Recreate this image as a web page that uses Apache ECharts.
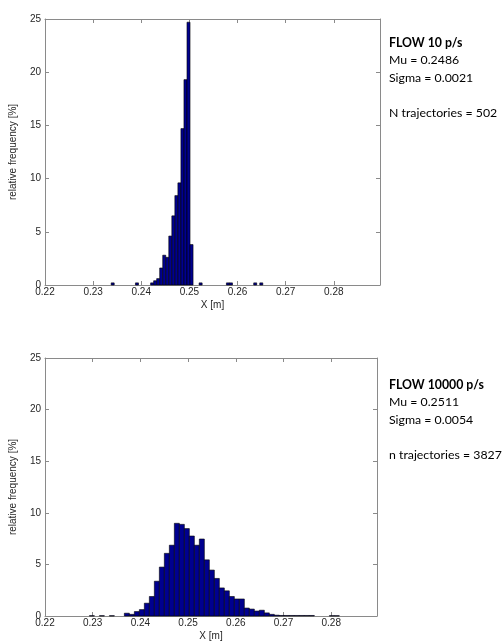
<!DOCTYPE html>
<html>
<head>
<meta charset="utf-8">
<script src="https://cdn.jsdelivr.net/npm/echarts@6/dist/echarts.min.js"></script>
<style>
  html, body { margin: 0; padding: 0; background: #fff; }
  #chart { width: 503px; height: 642px; }
</style>
</head>
<body>
<div id="chart"></div>
<script>
// histogram 1: FLOW 10 p/s, 50 bins
var topBinStart = 0.23375;
var topBinWidth = 0.00063;
var topFreq = [0.2, 0, 0, 0, 0, 0, 0, 0, 0.2, 0,
               0, 0, 0, 0.2, 0.4, 0.6, 1.6, 2.8, 2.6, 4.6,
               6.5, 8.4, 9.6, 14.7, 19.3, 24.7, 3.8, 0, 0, 0.2,
               0, 0, 0, 0, 0, 0, 0, 0, 0.2, 0.2,
               0, 0, 0, 0, 0, 0, 0, 0.2, 0, 0.2];

// histogram 2: FLOW 10000 p/s, 50 bins
var botBinStart = 0.2293;
var botBinWidth = 0.001048;
var botFreq = [0.03, 0, 0.03, 0, 0.03, 0, 0, 0.27, 0.16, 0.43,
               0.62, 1.24, 1.89, 3.37, 4.74, 6.07, 6.86, 8.98, 8.88, 8.47,
               7.75, 6.86, 7.46, 5.44, 4.45, 3.64, 2.72, 2.44, 1.89, 1.65,
               1.65, 0.77, 0.67, 0.48, 0.56, 0.3, 0.16, 0.08, 0.05, 0.05,
               0.05, 0.05, 0.05, 0.05, 0.05, 0, 0, 0, 0.03, 0.03];

var topInfo = ['FLOW 10 p/s', 'Mu = 0.2486', 'Sigma = 0.0021', '', 'N trajectories = 502'];
var botInfo = ['FLOW 10000 p/s', 'Mu = 0.2511', 'Sigma = 0.0054', '', 'n trajectories = 3827'];

var xMin = 0.22, xMax = 0.2896, xStep = 0.01, xLastLabel = 0.28;
var yMin = 0, yMax = 25, yStep = 5;

function bins(start, width, freq) {
    var out = [];
    for (var i = 0; i < freq.length; i++) {
        if (freq[i] > 0) out.push([start + i * width, start + (i + 1) * width, freq[i]]);
    }
    return out;
}

function renderBin(params, api) {
    var p0 = api.coord([api.value(0), api.value(2)]);
    var p1 = api.coord([api.value(1), 0]);
    return {
        type: 'rect',
        shape: { x: p0[0], y: p0[1], width: p1[0] - p0[0], height: p1[1] - p0[1] },
        style: { fill: '#00008f', stroke: '#000', lineWidth: 0.6 }
    };
}

function infoText(lines) {
    return lines.map(function (l, i) {
        return i === 0 ? '{b|' + l + '}' : '{n|' + (l || ' ') + '}';
    }).join('\n');
}

var axisColor = '#8a8a8a';
var labelColor = '#262626';

function xAxisPair(grid) {
    return [{
        type: 'value', gridIndex: grid, position: 'bottom',
        min: xMin, max: xMax, interval: xStep,
        name: 'X [m]', nameLocation: 'middle', nameGap: 15,
        nameTextStyle: { fontFamily: 'Liberation Sans', fontSize: 10, color: labelColor },
        axisLine: { onZero: false, lineStyle: { color: axisColor, width: 1 } },
        axisTick: { inside: true, length: 4, lineStyle: { color: axisColor } },
        axisLabel: { margin: 2, fontFamily: 'Liberation Sans', fontSize: 10, color: labelColor,
                     formatter: function (v) { return v > xLastLabel + 0.001 ? '' : v.toFixed(2); } },
        splitLine: { show: false }
    }, {
        type: 'value', gridIndex: grid, position: 'top',
        min: xMin, max: xMax, interval: xStep,
        axisLine: { onZero: false, lineStyle: { color: axisColor, width: 1 } },
        axisTick: { inside: true, length: 4, lineStyle: { color: axisColor } },
        axisLabel: { show: false },
        splitLine: { show: false }
    }];
}

function yAxisPair(grid) {
    return [{
        type: 'value', gridIndex: grid, position: 'left',
        min: yMin, max: yMax, interval: yStep,
        name: 'relative frequency [%]', nameLocation: 'middle', nameGap: 27,
        nameTextStyle: { fontFamily: 'Liberation Sans', fontSize: 10, color: labelColor },
        axisLine: { show: true, lineStyle: { color: axisColor, width: 1 } },
        axisTick: { show: true, inside: true, length: 4, lineStyle: { color: axisColor } },
        axisLabel: { margin: 4, fontFamily: 'Liberation Sans', fontSize: 10, color: labelColor },
        splitLine: { show: false }
    }, {
        type: 'value', gridIndex: grid, position: 'right',
        min: yMin, max: yMax, interval: yStep,
        axisLine: { show: true, lineStyle: { color: axisColor, width: 1 } },
        axisTick: { show: true, inside: true, length: 4, lineStyle: { color: axisColor } },
        axisLabel: { show: false },
        splitLine: { show: false }
    }];
}

var richStyle = {
    b: { fontFamily: 'Lato', fontSize: 12.3, fontWeight: 'bold', color: '#000', lineHeight: 17.5 },
    n: { fontFamily: 'Lato', fontSize: 12.3, color: '#000', lineHeight: 17.5 }
};

var chart = echarts.init(document.getElementById('chart'), null, { renderer: 'canvas' });
chart.setOption({
    animation: false,
    backgroundColor: '#fff',
    grid: [
        { left: 43, top: 19, width: 337, height: 266 },
        { left: 43, top: 358, width: 334, height: 260 }
    ],
    xAxis: xAxisPair(0).concat(xAxisPair(1)),
    yAxis: yAxisPair(0).concat(yAxisPair(1)),
    series: [{
        type: 'custom', xAxisIndex: 0, yAxisIndex: 0,
        renderItem: renderBin, encode: { x: [0, 1], y: 2 },
        data: bins(topBinStart, topBinWidth, topFreq)
    }, {
        type: 'custom', xAxisIndex: 2, yAxisIndex: 2,
        renderItem: renderBin, encode: { x: [0, 1], y: 2 },
        data: bins(botBinStart, botBinWidth, botFreq)
    }],
    graphic: [{
        type: 'text', left: 389, top: 37,
        style: { text: infoText(topInfo), rich: richStyle }
    }, {
        type: 'text', left: 389, top: 379,
        style: { text: infoText(botInfo), rich: richStyle }
    }]
});
</script>
</body>
</html>
